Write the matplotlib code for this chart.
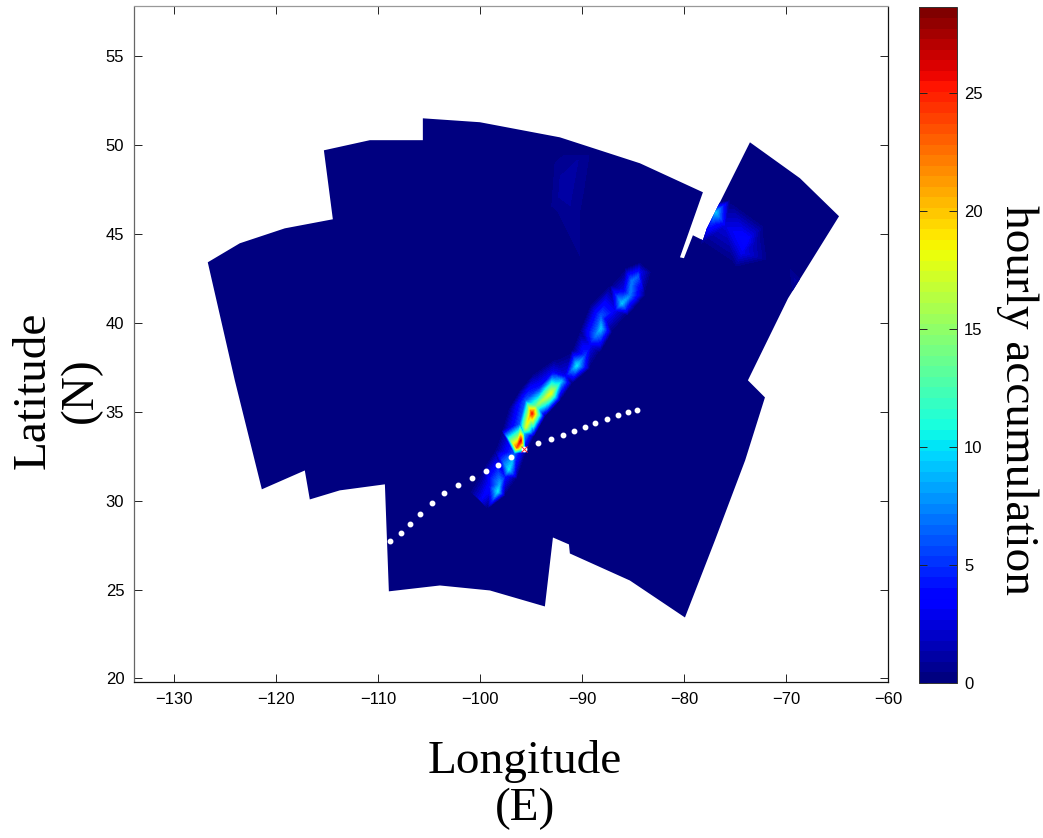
import matplotlib
matplotlib.use("Agg")
import matplotlib.pyplot as plt
import numpy as np
from matplotlib.colors import Normalize
from matplotlib.cm import ScalarMappable
from matplotlib.patches import Polygon
import matplotlib.tri as mtri

W, H = 1043, 838
x_ticks = [-130, -120, -110, -100, -90, -80, -70, -60]
y_ticks = [20, 25, 30, 35, 40, 45, 50, 55]
cbar_ticks = [0, 5, 10, 15, 20, 25]
x_limits = (-133.9, -60.0)
y_limits = (19.8, 57.8)
value_max = 28.6

domain_lon = [-126.67, -123.53, -119.12, -114.41, -115.29, -110.78, -105.59, -105.59, -100.0, -92.16, -84.31,
              -78.14, -80.39, -80.0, -79.12, -78.14, -77.75, -73.53, -68.63, -64.8, -69.8, -73.73, -72.06,
              -74.0, -76.96, -79.9, -85.3, -91.18, -91.27, -92.84, -93.63, -99.02, -103.92, -108.92, -109.31,
              -113.73, -116.67, -117.16, -121.37, -124.02]
domain_lat = [43.41, 44.48, 45.32, 45.83, 49.71, 50.28, 50.28, 51.51, 51.29, 50.44, 48.98,
              47.35, 43.69, 43.64, 44.93, 44.65, 45.32, 50.16, 48.14, 46.0, 41.38, 36.77, 35.81,
              32.27, 27.77, 23.43, 25.51, 27.03, 27.54, 27.93, 24.05, 24.95, 25.23, 24.9, 30.92,
              30.58, 30.07, 31.7, 30.64, 36.77]

track_lon = [-108.82, -107.72, -106.83, -105.85, -104.68, -103.5, -102.13, -100.78, -99.44, -98.26, -96.99, -95.66,
             -94.31, -93.04, -91.86, -90.78, -89.71, -88.7, -87.55, -86.44, -85.46, -84.58]
track_lat = [27.75, 28.2, 28.67, 29.25, 29.87, 30.43, 30.9, 31.25, 31.68, 32.03, 32.45, 32.93,
             33.24, 33.49, 33.69, 33.94, 34.16, 34.37, 34.57, 34.84, 34.99, 35.08]
storm_lon = [-95.66]
storm_lat = [32.93]

band_lon = [-99.9, -99.02, -98.24, -98.04, -97.55, -97.16, -96.86, -96.57, -96.37, -95.98, -95.69, -95.49,
            -95.1, -94.9, -94.51, -96.08, -95.49, -93.92, -93.04, -92.45, -92.06, -92.84, -91.57, -90.49,
            -89.71, -89.22, -88.63, -88.14, -88.14, -87.65, -86.76, -86.08, -85.29, -85.88, -85.1, -84.51, -84.31]
band_lat = [30.02, 30.75, 30.52, 30.97, 31.37, 31.76, 32.16, 32.66, 33.0, 33.39, 33.79, 34.12,
            34.74, 34.91, 35.31, 34.29, 35.64, 36.49, 36.04, 36.43, 36.71, 37.22, 37.0, 37.61,
            38.18, 38.74, 39.3, 39.7, 40.37, 40.15, 40.71, 41.1, 41.55, 41.83, 42.34, 42.62, 42.85]
band_val = [3, 4, 10, 8, 4, 10, 9, 6, 23, 26, 9, 17,
            20, 25, 14, 6, 6, 4, 18, 12, 9, 3, 3, 10,
            5, 3, 7, 9, 6, 3, 3, 9, 7, 3, 7, 6, 3]

edge_lon = [-100.98, -99.8, -98.53, -97.84, -97.25, -96.08, -94.61, -92.65, -90.98, -90.2, -89.22, -87.25, -85.78, -84.31,
            -99.22, -97.55, -96.37, -95.49, -94.71, -93.63, -92.16, -90.98, -89.22, -88.24, -87.06, -85.49, -83.82, -83.14]
edge_lat = [30.58, 31.7, 32.83, 33.96, 35.08, 36.21, 37.22, 38.0, 38.46, 39.58, 40.99, 42.12, 43.07, 43.41,
            29.57, 30.3, 31.25, 32.72, 33.62, 34.74, 35.64, 36.6, 37.45, 38.35, 39.47, 40.43, 41.55, 42.85]

ne_lon = [-76.86, -77.25, -75.98, -74.02, -74.31, -73.04, -69.12]
ne_lat = [46.22, 45.66, 45.49, 44.65, 43.97, 44.48, 42.4]
ne_val = [9, 5, 2.5, 4, 3, 1.5, 1]
ne_edge_lon = [-77.94, -75.49, -72.06, -71.57, -75.0, -78.43, -70.0, -68.0, -69.5]
ne_edge_lat = [46.62, 46.9, 45.49, 43.52, 43.07, 44.37, 43.5, 42.4, 41.3]

north_lon = [-90.39, -91.67, -91.18]
north_lat = [49.15, 47.57, 46.62]
north_val = [0.9, 1.3, 0.9]
north_edge_lon = [-93.14, -88.24, -93.63, -89.22]
north_edge_lat = [49.71, 49.71, 46.05, 46.05]

plt.rcParams['font.family'] = ['Liberation Sans', 'DejaVu Sans']
fig = plt.figure(figsize=(W / 100, H / 100), dpi=100, facecolor='white')

def px_axes(l, t, r, b):
    return fig.add_axes([l / W, 1 - b / H, (r - l) / W, (b - t) / H])

ax = px_axes(134, 6.5, 888, 682)
cax = px_axes(919, 7.5, 957, 683)

cmap = plt.get_cmap('jet', 64)
norm = Normalize(0, value_max)
ax.set_xlim(x_limits)
ax.set_ylim(y_limits)

outline = Polygon(np.column_stack([domain_lon, domain_lat]), closed=True, facecolor=cmap(0), edgecolor='none', zorder=1)
ax.add_patch(outline)

all_lon = np.concatenate([band_lon, edge_lon, ne_lon, ne_edge_lon, north_lon, north_edge_lon])
all_lat = np.concatenate([band_lat, edge_lat, ne_lat, ne_edge_lat, north_lat, north_edge_lat])
all_val = np.concatenate([band_val, np.zeros(len(edge_lon)), ne_val, np.zeros(len(ne_edge_lon)),
                          north_val, np.zeros(len(north_edge_lon))])
tri = mtri.Triangulation(all_lon, all_lat)
levels = np.linspace(0, value_max, 65)[1:]
cs = ax.tricontourf(tri, all_val, levels=levels, cmap=cmap, norm=norm, zorder=2)
cs.set_clip_path(outline)

ax.plot(track_lon, track_lat, ls='none', marker='o', ms=3.2, mfc='white', mec='white', zorder=3)
ax.plot(storm_lon, storm_lat, ls='none', marker='x', ms=5, mec='#ff3030', mew=0.7, zorder=4)

ax.set_xticks(x_ticks)
ax.set_yticks(y_ticks)
ax.tick_params(direction='in', length=5.8, width=0.7, top=True, right=True, labelsize=12, pad=7, color='#222222')
for name, col in [('left', '#666666'), ('top', '#999999'), ('right', '#111111'), ('bottom', '#111111')]:
    ax.spines[name].set_color(col)
    ax.spines[name].set_linewidth(0.9)

sm = ScalarMappable(norm=norm, cmap=cmap)
cb = fig.colorbar(sm, cax=cax)
cb.set_ticks(cbar_ticks)
cb.outline.set_linewidth(0.7)
cb.outline.set_edgecolor('#333333')
cax.tick_params(direction='in', length=5.8, width=0.7, left=True, right=True, labelsize=12, pad=5, color='#222222')

serif = ['Liberation Serif', 'DejaVu Serif']
fig.text(525 / W, 1 - 785 / H, 'Longitude\n(E)', family=serif, fontsize=34, ha='center', va='center', linespacing=1.15)
fig.text(57 / W, 1 - 390 / H, 'Latitude\n(N)', family=serif, fontsize=34, ha='center', va='center', rotation=90,
         linespacing=1.15, multialignment='center')
fig.text(1017 / W, 1 - 400 / H, 'hourly accumulation', family=serif, fontsize=34, ha='center', va='center', rotation=270)

fig.savefig('out.png', dpi=100)
